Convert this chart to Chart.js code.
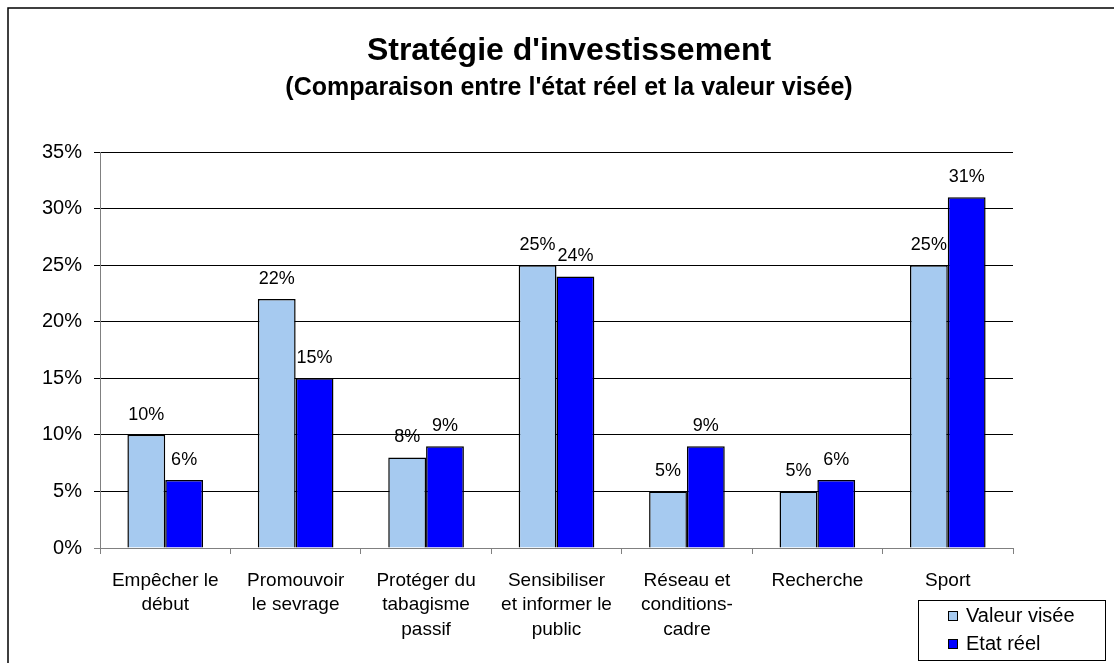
<!DOCTYPE html>
<html>
<head>
<meta charset="utf-8">
<script src="https://cdn.jsdelivr.net/npm/chart.js@4"></script>
<style>
  body { margin: 0; background: #fff; }
  #wrap { position: relative; width: 1114px; height: 663px; }
</style>
</head>
<body>
<div id="wrap"><canvas id="chart"></canvas></div>
<script>
const categories = [
    ["Empêcher le", "début"],
    ["Promouvoir", "le sevrage"],
    ["Protéger du", "tabagisme", "passif"],
    ["Sensibiliser", "et informer le", "public"],
    ["Réseau et", "conditions-", "cadre"],
    ["Recherche"],
    ["Sport"]
];
const valeurVisee = [10, 22, 8, 25, 5, 5, 25];
const etatReel = [6, 15, 9, 24, 9, 6, 31];
const seriesNames = ["Valeur visée", "Etat réel"];
const seriesColors = ["#A6CAF0", "#0000FF"];

const titleText = "Stratégie d'investissement";
const subtitleText = "(Comparaison entre l'état réel et la valeur visée)";
const FONT = "'Liberation Sans', Arial, sans-serif";

// background, frame, title, value labels and legend box
const decorations = {
    id: "decorations",
    beforeDraw(chart) {
        const ctx = chart.ctx;
        ctx.save();
        ctx.fillStyle = "#fff";
        ctx.fillRect(0, 0, chart.width, chart.height);
        ctx.restore();
    },
    afterDatasetsDraw(chart) {
        const ctx = chart.ctx;
        ctx.save();
        ctx.font = "18px " + FONT;
        ctx.fillStyle = "#000";
        ctx.textAlign = "center";
        ctx.textBaseline = "alphabetic";
        chart.data.datasets.forEach((ds, i) => {
            chart.getDatasetMeta(i).data.forEach((bar, j) => {
                ctx.fillText(ds.data[j] + "%", bar.x, bar.y - 15);
            });
        });
        ctx.restore();
    },
    afterDraw(chart) {
        const ctx = chart.ctx;
        ctx.save();
        ctx.strokeStyle = "#000";
        ctx.lineWidth = 1.5;
        ctx.strokeRect(8, 8, chart.width + 20, chart.height + 20);

        ctx.fillStyle = "#000";
        ctx.textAlign = "center";
        ctx.textBaseline = "alphabetic";
        ctx.font = "bold 32px " + FONT;
        ctx.fillText(titleText, 569, 60);
        ctx.font = "bold 25px " + FONT;
        ctx.fillText(subtitleText, 569, 95);

        // legend
        ctx.lineWidth = 1;
        ctx.strokeRect(918.5, 600.5, 187, 60);
        ctx.font = "20px " + FONT;
        ctx.textAlign = "left";
        ctx.textBaseline = "middle";
        chart.data.datasets.forEach((ds, i) => {
            const y = 615 + i * 28;
            ctx.fillStyle = ds.backgroundColor;
            ctx.fillRect(948, y - 4, 10, 10);
            ctx.strokeStyle = "#000";
            ctx.strokeRect(948.5, y - 3.5, 9, 9);
            ctx.fillStyle = "#000";
            ctx.fillText(ds.label, 966, y + 1);
        });
        ctx.restore();
    }
};

new Chart(document.getElementById("chart"), {
    type: "bar",
    data: {
        labels: categories,
        datasets: [
            {
                label: seriesNames[0],
                data: valeurVisee,
                backgroundColor: seriesColors[0],
                borderColor: "#000",
                borderWidth: 1.5,
                categoryPercentage: 0.58,
                barPercentage: 1
            },
            {
                label: seriesNames[1],
                data: etatReel,
                backgroundColor: seriesColors[1],
                borderColor: "#000",
                borderWidth: 1.5,
                categoryPercentage: 0.58,
                barPercentage: 1
            }
        ]
    },
    options: {
        responsive: true,
        maintainAspectRatio: false,
        animation: false,
        layout: { padding: { left: 0, right: 101, top: 152, bottom: 0 } },
        plugins: {
            legend: { display: false },
            title: { display: false },
            tooltip: { enabled: false }
        },
        scales: {
            x: {
                afterFit: (s) => { s.height = 115; },
                grid: {
                    offset: true,
                    drawOnChartArea: false,
                    tickLength: 6,
                    color: "#808080"
                },
                border: { color: "#808080" },
                ticks: {
                    color: "#000",
                    padding: 14,
                    font: { family: FONT, size: 19, lineHeight: 1.3 },
                    maxRotation: 0,
                    autoSkip: false
                }
            },
            y: {
                min: 0,
                max: 35,
                afterFit: (s) => { s.width = 100; },
                grid: {
                    tickLength: 6,
                    color: (c) => c.tick && c.tick.value === 0 ? "#808080" : "#000"
                },
                border: { color: "#808080" },
                ticks: {
                    stepSize: 5,
                    color: "#000",
                    padding: 12,
                    font: { family: FONT, size: 20 },
                    callback: (v) => v + "%"
                }
            }
        }
    },
    plugins: [decorations]
});
</script>
</body>
</html>
